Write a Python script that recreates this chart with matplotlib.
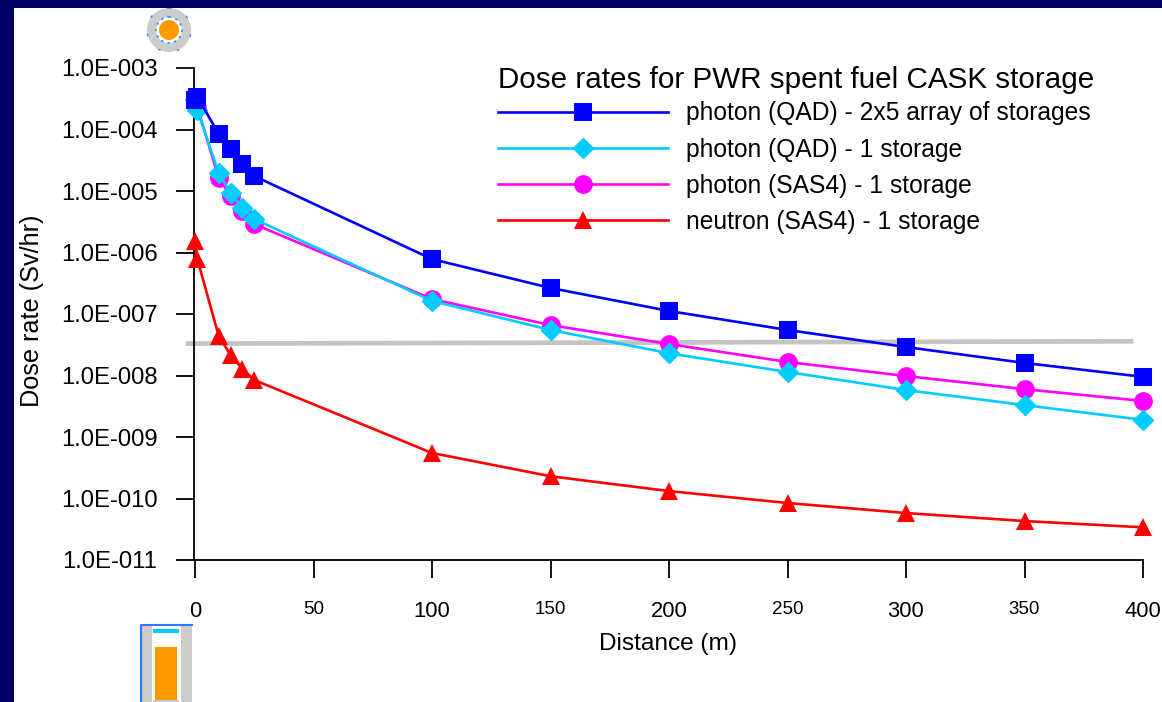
import matplotlib
matplotlib.use("Agg")
import matplotlib.pyplot as plt
from matplotlib.patches import Rectangle, Circle

plt.rcParams['font.family'] = ['Liberation Sans', 'DejaVu Sans']

W, H = 1162, 702
NAVY = '#000066'

dist = [0, 1, 10, 15, 20, 25, 100, 150, 200, 250, 300, 350, 400]
blue_qad_array = [3.0e-4, 3.4e-4, 8.45e-5, 4.8e-5, 2.75e-5, 1.75e-5, 7.8e-7, 2.65e-7, 1.12e-7, 5.5e-8, 2.9e-8, 1.6e-8, 9.5e-9]
cyan_qad_one = [3.0e-4, 2.07e-4, 1.96e-5, 9.3e-6, 5.3e-6, 3.5e-6, 1.63e-7, 5.5e-8, 2.3e-8, 1.14e-8, 5.8e-9, 3.3e-9, 1.9e-9]
mag_sas_one = [3.0e-4, 2.3e-4, 1.63e-5, 8.3e-6, 4.7e-6, 2.9e-6, 1.75e-7, 6.6e-8, 3.25e-8, 1.66e-8, 9.8e-9, 6.0e-9, 3.85e-9]
red_sas_one = [1.54e-6, 7.8e-7, 4.4e-8, 2.15e-8, 1.28e-8, 8.45e-9, 5.5e-10, 2.3e-10, 1.32e-10, 8.45e-11, 5.8e-11, 4.3e-11, 3.4e-11]

limit_x = [-4, 396]
limit_y = [3.3e-8, 3.6e-8]

labels = ['photon (QAD) - 2x5 array of storages', 'photon (QAD) - 1 storage',
          'photon (SAS4) - 1 storage', 'neutron (SAS4) - 1 storage']
legend_title = 'Dose rates for PWR spent fuel CASK storage'
yticks = [1e-3, 1e-4, 1e-5, 1e-6, 1e-7, 1e-8, 1e-9, 1e-10, 1e-11]
ylabels = ['1.0E-003', '1.0E-004', '1.0E-005', '1.0E-006', '1.0E-007', '1.0E-008', '1.0E-009', '1.0E-010', '1.0E-011']
xticks = [0, 50, 100, 150, 200, 250, 300, 350, 400]

fig = plt.figure(figsize=(W / 100, H / 100), dpi=100, facecolor='white')

def fx(px): return px / W
def fy(py): return 1 - py / H

# slide frame
fig.add_artist(Rectangle((0, 0), fx(14), 1, transform=fig.transFigure, fc=NAVY, ec='none'))
fig.add_artist(Rectangle((0, fy(8)), 1, 8 / H, transform=fig.transFigure, fc=NAVY, ec='none'))

ax = fig.add_axes([fx(195), fy(560), fx(1143) - fx(195), (560 - 68) / H])
ax.set_yscale('log')
ax.set_xlim(0, 400)
ax.set_ylim(1e-11, 1e-3)
ax.patch.set_alpha(0)

ax.plot(limit_x, limit_y, color='#c4c4c4', lw=3.4, clip_on=False, zorder=2, solid_capstyle='butt')

l_blue, = ax.plot(dist, blue_qad_array, color='#0000ff', lw=1.9, marker='s', ms=13, mew=0, clip_on=False, zorder=6, label=labels[0])
l_cyan, = ax.plot(dist, cyan_qad_one, color='#00ccff', lw=1.9, marker='D', ms=10.5, mew=1, clip_on=False, zorder=5, label=labels[1])
l_mag, = ax.plot(dist, mag_sas_one, color='#ff00ff', lw=1.9, marker='o', ms=13.5, mew=0, clip_on=False, zorder=4, label=labels[2])
l_red, = ax.plot(dist, red_sas_one, color='#ff0000', lw=1.9, marker='^', ms=13.5, mew=0, clip_on=False, zorder=4, label=labels[3])

for s in ['top', 'right']:
    ax.spines[s].set_visible(False)
ax.spines['left'].set_position(('outward', 1))
ax.spines['left'].set_linewidth(1.3)
ax.spines['bottom'].set_linewidth(1.3)

ax.set_yticks(yticks)
ax.set_yticklabels(ylabels)
ax.minorticks_off()
ax.set_xticks(xticks)
ax.set_xticklabels([str(v) for v in xticks])
ax.tick_params(axis='y', length=13, width=1.3, labelsize=17.2, pad=13)
ax.tick_params(axis='x', length=13, width=1.3, labelsize=15.8, pad=16.5)
for v, t in zip(xticks, ax.get_xticklabels()):
    if v % 100:
        t.set_fontsize(13.5)

ax.set_xlabel('Distance (m)', fontsize=17.6)
ax.xaxis.set_label_coords(0.499, -0.1484)
ax.set_ylabel('Dose rate (Sv/hr)', fontsize=18.2)
ax.yaxis.set_label_coords(-0.1594, 0.506)

leg = ax.legend(handles=[l_blue, l_cyan, l_mag, l_red], title=legend_title, loc='upper left',
                bbox_to_anchor=(fx(498), fy(66)), bbox_transform=fig.transFigure,
                frameon=False, numpoints=1, fontsize=17.7, title_fontsize=21.3,
                handlelength=6.9, handletextpad=0.73, labelspacing=0.5,
                borderpad=0, borderaxespad=0, alignment='left')
leg._legend_box.sep = 5.2

# decorative icons: cask top view
px_ax = fig.add_axes([0, 0, 1, 1], zorder=-1)
px_ax.set_xlim(0, W)
px_ax.set_ylim(H, 0)
px_ax.axis('off')
px_ax.add_patch(Circle((169, 30), 22, fc='#cccccc', ec='none'))
px_ax.add_patch(Circle((169, 30), 13, fc='white', ec='#3388ff', lw=1.2, ls=(0, (1.5, 2.5))))
px_ax.add_patch(Circle((169, 30), 10, fc='#ff9900', ec='none'))
px_ax.add_patch(Circle((169, 30), 22, fc='none', ec='#3388ff', lw=1.0, ls=(0, (2, 12))))
# cask side view
px_ax.add_patch(Rectangle((141, 625), 51, 77, fc='#cccccc', ec='none'))
px_ax.add_patch(Rectangle((152, 626), 29, 76, fc='white', ec='none'))
px_ax.add_patch(Rectangle((153, 629), 26, 4, fc='#00ccff', ec='none'))
px_ax.add_patch(Rectangle((155, 647), 22, 53, fc='#ff9900', ec='none'))
px_ax.add_patch(Rectangle((153, 700), 26, 2, fc='#cccccc', ec='none'))
px_ax.plot([141, 141, 192], [702, 625, 625], color='#3377ff', lw=1.5)

fig.savefig('out.png', dpi=100, facecolor='white')
